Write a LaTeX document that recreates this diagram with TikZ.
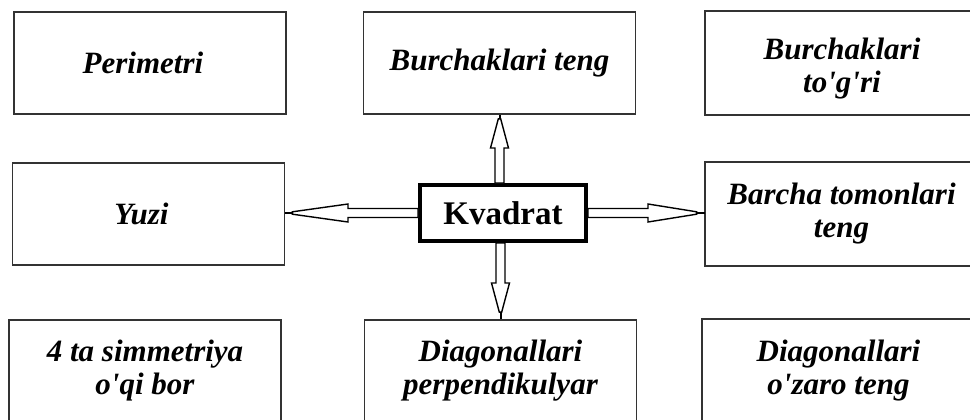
\documentclass[tikz,border=0pt]{standalone}
\usepackage{fontspec}
\setmainfont{Liberation Serif}[Ligatures=TeXOff]
\usetikzlibrary{calc}
\tikzset{
  boxline/.style={draw=black!80, line width=1.8pt},
  infobox/.style={boxline, minimum width=272pt, minimum height=102pt,
    inner sep=0pt, align=center, font=\fontsize{31}{33}\selectfont\bfseries\itshape},
  edgebox/.style={infobox, draw=none},
  mainbox/.style={draw=black, line width=4pt, minimum width=166pt, minimum height=56pt,
    inner sep=0pt, font=\fontsize{33}{35}\selectfont\bfseries},
  arrline/.style={draw=black, line width=1.4pt, fill=white, line join=miter},
  tipline/.style={draw=black, line width=2pt}
}
% #1 start, #2 end, #3 shaft length, #4 distance of head tip from end
\newcommand\hollowarrow[4]{%
  \coordinate (hb) at ($(#1)!#3!(#2)$);
  \coordinate (ht) at ($(#2)!#4!(#1)$);
  \draw[tipline] (ht) -- (#2);
  \draw[arrline]
    ($(#1)!4.5pt!90:(#2)$) -- ($(hb)!4.5pt!90:(#2)$) -- ($(hb)!9pt!90:(#2)$) --
    ($(ht)!1.2pt!90:(#2)$) -- ($(ht)!1.2pt!-90:(#2)$) -- ($(hb)!9pt!-90:(#2)$) --
    ($(hb)!4.5pt!-90:(#2)$) -- ($(#1)!4.5pt!-90:(#2)$) -- cycle;
}
\begin{document}
\begin{tikzpicture}[x=1pt,y=-1pt]
\useasboundingbox[fill=white] (0,0) rectangle (970,420);
\clip (0,0) rectangle (970,420);

\node[infobox] (per) at (150,63) {Perimetri\hspace*{14pt}};
\node[infobox] (bt)  at (499.5,63) {Burchaklari teng};
\node[edgebox] (btr) at (842,63) {\rule{0pt}{32pt}Burchaklari\\to'g'ri};

\node[infobox] (yuzi) at (148.5,214) {Yuzi\hspace*{14pt}};
\node[mainbox] (kv)   at (503,213) {Kvadrat};
\node[edgebox] (btt)  at (841.5,214) {Barcha tomonlari\\teng};

\node[infobox] (sim) at (145,371) {4 ta simmetriya\\o'qi bor};
\node[infobox] (dp)  at (500.5,371) {Diagonallari\\perpendikulyar};
\node[edgebox] (dot) at (838.5,371) {Diagonallari\\o'zaro teng};

\foreach \b in {btr,btt,dot}
  \draw[boxline] (\b.south west) rectangle ($(\b.north east)+(40,0)$);

\coordinate (lS) at (kv.west);
\coordinate (lE) at (yuzi.east |- kv.west);
\coordinate (rS) at (kv.east);
\coordinate (rE) at (btt.west |- kv.east);
\coordinate (uS) at (bt.south |- kv.north);
\coordinate (uE) at (bt.south);
\coordinate (dS) at (dp.north |- kv.south);
\coordinate (dE) at (dp.north);

\hollowarrow{lS}{lE}{70pt}{7pt}
\hollowarrow{rS}{rE}{60pt}{8pt}
\hollowarrow{uS}{uE}{35pt}{4pt}
\hollowarrow{dS}{dE}{40pt}{7pt}
\end{tikzpicture}
\end{document}
